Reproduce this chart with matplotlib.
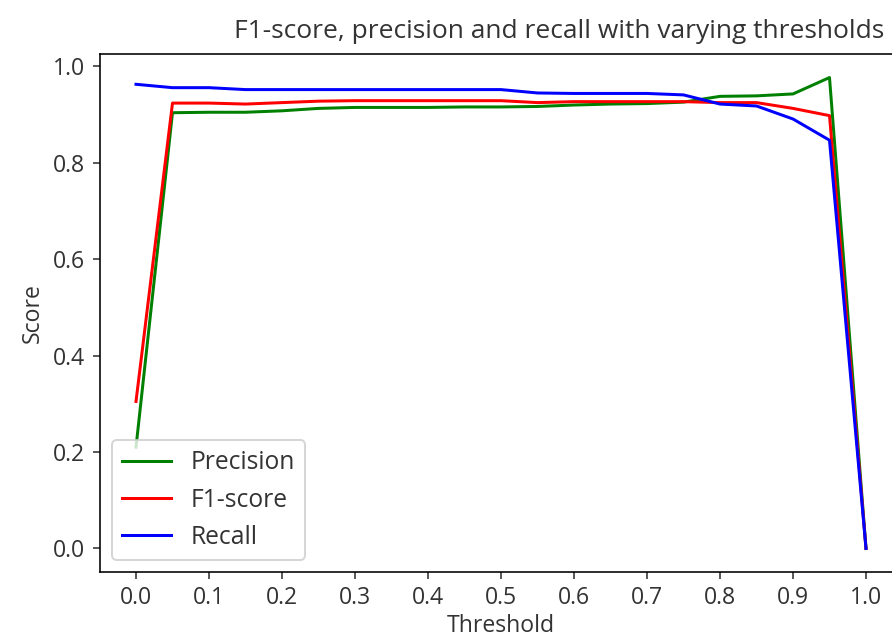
import matplotlib
matplotlib.use('Agg')
import matplotlib.pyplot as plt

thresholds = [0.0, 0.05, 0.1, 0.15, 0.2, 0.25, 0.3, 0.35, 0.4, 0.45, 0.5,
              0.55, 0.6, 0.65, 0.7, 0.75, 0.8, 0.85, 0.9, 0.95, 1.0]
precision = [0.21, 0.904, 0.905, 0.905, 0.908, 0.913, 0.915, 0.915, 0.915, 0.916, 0.916,
             0.917, 0.920, 0.922, 0.923, 0.926, 0.938, 0.939, 0.943, 0.977, 0.0]
f1_score = [0.305, 0.924, 0.924, 0.922, 0.925, 0.928, 0.929, 0.929, 0.929, 0.929, 0.929,
            0.925, 0.927, 0.927, 0.927, 0.927, 0.925, 0.925, 0.913, 0.898, 0.0]
recall = [0.963, 0.956, 0.956, 0.952, 0.952, 0.952, 0.952, 0.952, 0.952, 0.952, 0.952,
          0.945, 0.944, 0.944, 0.944, 0.941, 0.922, 0.918, 0.891, 0.847, 0.0]
xtick_vals = [0.0, 0.1, 0.2, 0.3, 0.4, 0.5, 0.6, 0.7, 0.8, 0.9, 1.0]

plt.rcParams['font.family'] = ['Open Sans', 'DejaVu Sans']
plt.rcParams['font.size'] = 11.5
plt.rcParams['text.color'] = '#333333'
plt.rcParams['axes.labelcolor'] = '#333333'
plt.rcParams['xtick.color'] = '#333333'
plt.rcParams['ytick.color'] = '#333333'

fig = plt.figure(figsize=(892 / 144, 644 / 144), dpi=144)
ax = fig.add_axes([99.5 / 892, 72 / 644, 803 / 892, 518 / 644])

ax.plot(thresholds, precision, color='green', label='Precision')
ax.plot(thresholds, f1_score, color='red', label='F1-score')
ax.plot(thresholds, recall, color='blue', label='Recall')
ax.set_xticks(xtick_vals)
ax.set_title('F1-score, precision and recall with varying thresholds',
             x=0.573, fontsize=13.2, pad=8)
ax.set_xlabel('Threshold', labelpad=2)
ax.set_ylabel('Score')
ax.legend(loc='lower left', fontsize=12.3)

fig.savefig('out.png', dpi=144)
